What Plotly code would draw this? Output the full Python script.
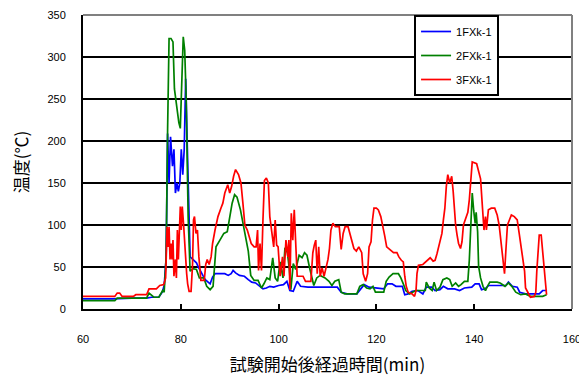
import plotly.graph_objects as go

# ---- data (time in minutes, temperature in degC) ----
t_1F = [60, 66, 70, 73, 74, 75.5, 76.2, 76.6, 77.0, 77.3, 77.6, 77.9, 78.3, 78.6, 78.9, 79.2, 79.5, 79.8,
        80.1, 80.4, 80.7, 81.0, 81.3, 81.6, 81.9, 82.3, 82.7, 83.2, 83.6, 84.0, 84.5, 85.0, 85.5, 86.0,
        86.5, 87.0, 88, 89, 89.7, 90.3, 90.7, 91.2, 92, 93, 93.8, 94.5, 95.3, 96, 96.8, 97.5, 98.2, 99,
        100, 101, 101.7, 102.3, 103, 103.8, 104.5, 106, 108, 110, 112, 112.8, 114, 116, 117, 117.5,
        118.5, 120, 121.5, 122.3, 123.2, 124, 125.3, 125.8, 126.5, 127.3, 128.5, 129.5, 130.2, 131.3,
        132, 133, 133.7, 134.6, 136, 137, 138, 139.5, 140.2, 141, 141.5, 142.2, 143, 146.5, 147, 147.8,
        148.8, 149.3, 150.5, 153.3, 154, 154.9]
v_1F = [12, 12, 13, 13, 14, 14, 20, 28, 60, 209, 150, 205, 170, 190, 138, 150, 140, 150,
        190, 160, 190, 274, 200, 110, 62, 60, 58, 55, 50, 45, 40, 35, 32, 30,
        38, 42, 42, 42, 40, 42, 46, 43, 40, 39, 35, 32, 31, 28, 24, 25, 27, 26,
        28, 29, 33, 22, 21, 33, 27, 26, 26, 26, 26, 20, 18, 18, 26, 29,
        26, 25, 24, 30, 30, 27, 27, 17, 18, 21, 22, 18, 26, 26,
        22, 23, 27, 24, 24, 22, 25, 26, 30, 30, 23, 24, 28, 28, 32, 27,
        26, 20, 18, 18, 22, 22]

t_2F = [60, 66.5, 67, 73, 73.5, 74.5, 75.5, 76.3, 76.6, 77.0, 77.3, 77.6, 78.0, 78.4, 78.7, 79.0, 79.3,
        79.6, 79.9, 80.2, 80.5, 80.8, 81.1, 81.5, 81.9, 82.5, 83.2, 83.8, 84.7, 85.3, 86, 86.6, 87.2,
        88, 88.8, 89.5, 90, 90.5, 91.0, 91.5, 92.2, 92.8, 93.3, 93.8, 94.3, 95, 95.8, 96.5, 97, 97.6,
        98.2, 98.8, 99.3, 99.8, 100.3, 100.9, 101.3, 101.8, 102.2, 102.5, 103, 103.5, 104.2, 104.8,
        105.3, 105.8, 106.3, 106.8, 107.2, 107.8, 108.5, 109.5, 110.3, 110.9, 111.5, 112.3, 112.8,
        113.5, 116, 116.6, 117.3, 118, 118.7, 119.3, 119.8, 121.5, 122, 122.6, 123.4, 124.5, 125,
        125.5, 126, 126.8, 128, 130, 130.2, 130.8, 131.4, 131.8, 132.3, 133, 133.6, 134.4, 135, 135.5,
        136.2, 136.8, 137.3, 138, 138.7, 139, 139.3, 139.6, 139.9, 140.2, 140.4, 140.7, 140.9, 141.3,
        141.8, 142.3, 142.7, 143.2, 144.7, 145.3, 146.3, 147, 147.7, 148.5, 149.5, 150.5, 151.5, 154,
        154.8]
v_2F = [10, 10, 13, 13, 19, 14, 14, 22, 20, 62, 213, 322, 322, 318, 262, 246, 233,
        222, 215, 280, 324, 308, 250, 110, 45, 48, 47, 37, 37, 27, 23, 27, 74,
        82, 90, 92, 110, 126, 136, 133, 118, 100, 88, 69, 40, 34, 34, 25, 30, 37,
        35, 61, 37, 33, 56, 37, 73, 67, 47, 23, 54, 47, 64, 61,
        67, 64, 50, 37, 28, 37, 40, 37, 33, 28, 33, 35, 20,
        18, 18, 27, 29, 25, 24, 27, 20, 20, 33, 38, 42, 42, 37,
        30, 22, 18, 22, 22, 32, 25, 22, 32, 22, 26, 35, 37, 35, 27,
        31, 27, 29, 33, 33, 58, 108, 138, 117, 102, 115, 92, 51, 37,
        27, 22, 27, 32, 32, 31, 27, 31, 27, 20, 17, 18, 15, 15,
        17]

t_3F = [60, 66.5, 67, 67.5, 68, 70.3, 70.8, 73, 73.5, 75, 75.7, 76.5, 76.9, 77.2, 77.4, 77.6, 77.8, 78.0,
        78.2, 78.4, 78.6, 78.9, 79.1, 79.3, 79.5, 79.7, 79.9, 80.1, 80.3, 80.6, 80.9, 81.2, 81.4, 81.7,
        82.1, 82.4, 82.6, 82.8, 83.1, 83.4, 83.7, 84.1, 84.8, 85.1, 85.4, 85.8, 86.2, 86.5, 87, 87.6,
        88.2, 88.6, 89, 89.6, 90, 90.4, 90.8, 91.2, 91.8, 92.3, 92.7, 93.1, 93.6, 94, 94.4, 95, 95.4,
        95.7, 95.9, 96.2, 96.5, 96.8, 97.1, 97.5, 97.9, 98.2, 98.6, 99.0, 99.3, 99.6, 99.9, 100.3,
        100.8, 101.1, 101.5, 101.9, 102.1, 102.3, 102.6, 102.9, 103.2, 103.5, 103.8, 105, 105.5, 106.6,
        107, 107.3, 107.6, 107.9, 108.2, 108.5, 108.9, 109.3, 109.7, 110.1, 110.4, 110.7, 111.1, 111.6,
        112.4, 112.8, 113.2, 113.6, 114.2, 114.6, 115, 115.4, 115.9, 116.4, 117, 117.3, 117.8, 118.2,
        118.5, 118.9, 119.2, 119.5, 120, 120.4, 120.9, 121.3, 121.7, 122.1, 122.8, 123.5, 124.2, 124.6,
        125.1, 125.5, 125.8, 126.1, 126.5, 127.3, 127.8, 128.1, 128.3, 128.6, 129.5, 130.2, 131, 131.6,
        132, 132.4, 132.9, 133.4, 133.7, 134, 134.3, 134.6, 135, 135.4, 135.7, 135.9, 136.2, 136.5,
        136.8, 137.2, 137.5, 137.8, 138.3, 138.7, 139, 139.3, 139.6, 140.5, 140.9, 141.3, 141.7, 142,
        142.3, 142.5, 142.9, 143.5, 144.2, 144.7, 145.1, 145.5, 145.9, 146.2, 146.5, 146.8, 147.2,
        147.6, 148.2, 148.8, 149.2, 149.6, 150, 150.3, 150.5, 151, 151.5, 152.3, 152.6, 152.8, 153.0,
        153.3, 153.7, 154, 154.4, 154.8]
v_3F = [15, 15, 19, 19, 15, 15, 17, 17, 24, 24, 28, 29, 37, 98, 74, 98, 59, 78,
        59, 82, 39, 59, 37, 94, 59, 98, 122, 94, 122, 98, 62, 42, 30, 21,
        21, 53, 106, 110, 90, 94, 62, 34, 34, 53, 59, 53, 62, 78, 94, 110,
        120, 126, 138, 148, 138, 146, 158, 166, 160, 150, 126, 100, 94, 86, 78, 74, 74,
        94, 46, 78, 46, 106, 153, 156, 150, 110, 94, 74, 106, 76, 74, 39,
        62, 39, 82, 62, 82, 23, 114, 82, 118, 82, 39, 39, 33, 33,
        67, 76, 82, 42, 74, 39, 49, 39, 49, 59, 72, 94, 102, 98,
        98, 71, 90, 98, 98, 90, 82, 72, 69, 74, 67, 42, 33, 42,
        74, 80, 106, 120, 120, 118, 110, 100, 87, 74, 70, 67, 67, 62,
        58, 56, 39, 27, 20, 18, 15, 22, 42, 52, 53, 57, 61, 57,
        58, 66, 80, 90, 106, 120, 146, 160, 150, 158, 140, 120, 100, 88,
        78, 72, 80, 100, 108, 115, 130, 150, 175, 173, 165, 155, 120, 94,
        110, 94, 118, 120, 120, 112, 100, 80, 60, 42, 72, 100, 106,
        112, 110, 106, 90, 74, 58, 45, 25, 20, 14, 15, 20, 45, 69,
        88, 88, 66, 40, 17]

series_names = ["1FXk-1", "2FXk-1", "3FXk-1"]
series_colors = ["#0000FF", "#008000", "#FF0000"]

x_ticks = [60, 80, 100, 120, 140, 160]
y_ticks = [0, 50, 100, 150, 200, 250, 300, 350]

fig = go.Figure()
for i, (tx, vy) in enumerate([(t_1F, v_1F), (t_2F, v_2F), (t_3F, v_3F)]):
    fig.add_trace(go.Scatter(
        x=tx, y=vy, mode="lines", name=series_names[i],
        legendgroup=series_names[i],
        line=dict(color=series_colors[i], width=1.7),
    ))

tick_font = dict(family="Liberation Sans, Arial, sans-serif", size=11, color="#000000")
title_font = dict(family="Noto Sans CJK JP", size=17, color="black")

# The page body has an 8px margin, so the figure is sized 8px smaller
fig.update_layout(
    width=579, height=377,
    margin=dict(l=75, r=15, t=7, b=76),
    paper_bgcolor="white", plot_bgcolor="white",
    showlegend=True,
    legend=dict(
        x=0.677, y=1.0, xanchor="left", yanchor="top",
        bgcolor="white", bordercolor="black", borderwidth=2,
        font=dict(family="Liberation Sans, Arial, sans-serif", size=11, color="black"),
        tracegroupgap=5,
    ),
    xaxis=dict(
        range=[60, 160], tickvals=x_ticks, ticktext=[str(v) for v in x_ticks],
        showgrid=False, zeroline=False, automargin=False,
        showline=True, linecolor="black", linewidth=2,
        ticks="inside", ticklen=5, tickwidth=2, tickcolor="black",
        tickfont=tick_font, ticklabelstandoff=19, ticklabeloverflow="allow",
        title=dict(text="試験開始後経過時間(min)", font=title_font, standoff=15),
    ),
    yaxis=dict(
        range=[0, 350], tickvals=y_ticks, ticktext=[str(v) for v in y_ticks],
        showgrid=True, gridcolor="black", gridwidth=2, zeroline=False, automargin=False,
        showline=True, linecolor="black", linewidth=2,
        ticks="", tickfont=tick_font, ticklabelstandoff=13, ticklabeloverflow="allow",
        title=dict(text="温度(℃)", font=title_font, standoff=18),
    ),
    shapes=[
        dict(type="line", xref="paper", yref="paper", x0=0, x1=1, y0=1, y1=1,
             line=dict(color="#808080", width=2)),
        dict(type="line", xref="paper", yref="paper", x0=1, x1=1, y0=0, y1=1,
             line=dict(color="#808080", width=2)),
    ],
)

fig.write_html("out.html")
